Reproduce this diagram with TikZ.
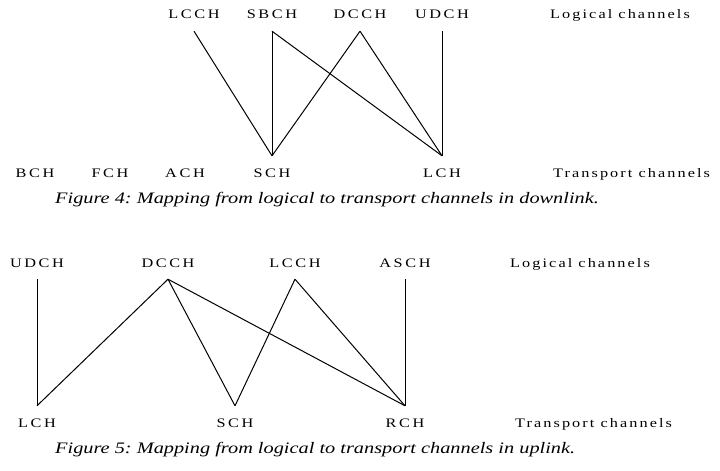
\documentclass[tikz,border=0pt]{standalone}
\usepackage{fontspec}
\setmainfont{Liberation Serif}
\newfontfamily\chanfont[FakeStretch=1.25,LetterSpace=20]{Liberation Serif}
\newfontfamily\groupfont[FakeStretch=1.25,LetterSpace=16]{Liberation Serif}
\newfontfamily\captfont[FakeStretch=1.27]{Liberation Serif}
\frenchspacing

\begin{document}
\begin{tikzpicture}[x=1pt,y=-1pt,
    chan/.style={font=\chanfont\fontsize{13}{15}\selectfont,inner xsep=0pt,inner ysep=12pt,text height=9pt,text depth=0pt},
    group/.style={font=\groupfont\fontsize{13}{15}\selectfont,inner sep=0pt,anchor=base west},
    capt/.style={font=\captfont\fontsize{16}{18}\selectfont\itshape,inner sep=0pt,anchor=base west},
    link/.style={line width=1pt}]
    \useasboundingbox (0,0) rectangle (720,471);

    % downlink
    \node[chan] (lcchA) at (194,14.5) {LCCH};
    \node[chan] (sbchA) at (272,14.5) {SBCH};
    \node[chan] (dcchA) at (360,14.5) {DCCH};
    \node[chan] (udchA) at (442,14.5) {UDCH};
    \node[group] (logA) at (550,19) {Logical channels};
    \node[chan] (bchA) at (35,172.5) {BCH};
    \node[chan] (fchA) at (110,172.5) {FCH};
    \node[chan] (achA) at (185,172.5) {ACH};
    \node[chan] (schA) at (272,172.5) {SCH};
    \node[chan] (lchA) at (442,172.5) {LCH};
    \node[group] (trA) at (553,177) {Transport channels};
    \draw[link] (lcchA.south) -- (schA.north);
    \draw[link] (sbchA.south) -- (schA.north);
    \draw[link] (sbchA.south) -- (lchA.north);
    \draw[link] (dcchA.south) -- (schA.north);
    \draw[link] (dcchA.south) -- (lchA.north);
    \draw[link] (udchA.south) -- (lchA.north);
    \node[capt] (capA) at (55,203) {Figure 4: Mapping from logical to transport channels in downlink.};

    % uplink
    \node[chan] (udchB) at (37,262.5) {UDCH};
    \node[chan] (dcchB) at (168,262.5) {DCCH};
    \node[chan] (lcchB) at (295,262.5) {LCCH};
    \node[chan] (aschB) at (405,262.5) {ASCH};
    \node[group] (logB) at (510,267) {Logical channels};
    \node[chan] (lchB) at (37,422.5) {LCH};
    \node[chan] (schB) at (235,422.5) {SCH};
    \node[chan] (rchB) at (405,422.5) {RCH};
    \node[group] (trB) at (515,427) {Transport channels};
    \draw[link] (udchB.south) -- (lchB.north);
    \draw[link] (dcchB.south) -- (lchB.north);
    \draw[link] (dcchB.south) -- (schB.north);
    \draw[link] (dcchB.south) -- (rchB.north);
    \draw[link] (lcchB.south) -- (schB.north);
    \draw[link] (lcchB.south) -- (rchB.north);
    \draw[link] (aschB.south) -- (rchB.north);
    \node[capt] (capB) at (55,453) {Figure 5: Mapping from logical to transport channels in uplink.};
\end{tikzpicture}
\end{document}
